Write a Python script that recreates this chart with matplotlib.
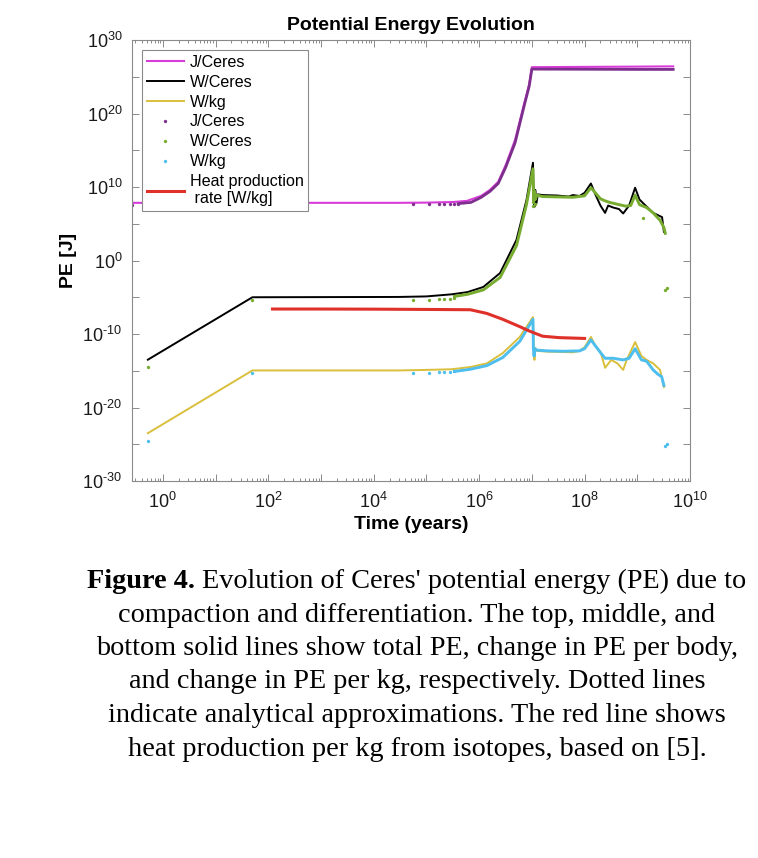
import numpy as np
import matplotlib.pyplot as plt
from matplotlib.ticker import FixedLocator, FuncFormatter, NullFormatter
from matplotlib.lines import Line2D

plt.rcParams['font.family'] = ['Liberation Sans', 'DejaVu Sans']
plt.rcParams['mathtext.fontset'] = 'custom'
plt.rcParams['mathtext.rm'] = 'Liberation Sans'
plt.rcParams['mathtext.it'] = 'Liberation Sans:italic'
plt.rcParams['mathtext.bf'] = 'Liberation Sans:bold'

# ---- data (time in years, PE values) ----
# J/Ceres (total PE), solid
t_j = [0.26, 50, 3e4, 1e5, 3.2e5, 5.9e5, 1.1e6, 1.6e6, 2.3e6, 3.2e6, 4.8e6, 7.4e6, 8.9e6, 1.0e7, 1e8, 1e9, 4.8e9]
pe_j = [7e7, 7e7, 7e7, 7.5e7, 9e7, 1.3e8, 6.3e8, 4e9, 5e10, 1e13, 2.5e16, 6e21, 1e24, 2e26, 2.2e26, 2.4e26, 2.6e26]

# W/Ceres, solid
t_w = [0.52, 50, 3e4, 1e5, 3e5, 6e5, 1.2e6, 2.5e6, 5.1e6, 7.9e6, 1.05e7, 1.08e7, 1.12e7, 1.16e7, 1.22e7, 1.3e7,
       1.6e7, 3e7, 5e7, 6e7, 8e7, 1e8, 1.32e8, 1.6e8, 2e8, 2.45e8, 2.8e8, 3.5e8, 4.5e8, 5.4e8, 7e8, 9.1e8,
       1.1e9, 1.3e9, 2e9, 2.95e9, 3.2e9]
pe_w = [3.2e-14, 1e-5, 1.1e-5, 1.3e-5, 2.5e-5, 5e-5, 2.5e-4, 2e-2, 6.3e2, 1.6e8, 2e13, 1e9, 2e7, 4e9, 6e7, 1e9,
        8e8, 7e8, 5e8, 8e8, 6e8, 1.6e9, 3e10, 1e9, 3e7, 3e6, 3e7, 1.6e7, 1e7, 2.5e6, 3e7, 8e9,
        2e8, 6e7, 3e6, 8e5, 8e3]

# W/kg, solid
t_kg = [0.52, 50, 3e4, 1e5, 3e5, 6.8e5, 1.4e6, 2.8e6, 5.9e6, 1.05e7, 1.08e7, 1.12e7, 1.16e7, 1.25e7, 2e7, 4e7,
        6e7, 8e7, 1e8, 1.32e8, 1.6e8, 2e8, 2.45e8, 3.2e8, 4.2e8, 5.4e8, 6.3e8, 9.1e8, 1.2e9, 1.5e9, 2e9,
        2.7e9, 3.2e9]
pe_kg = [3.2e-24, 1.1e-15, 1.1e-15, 1.3e-15, 1.6e-15, 3.2e-15, 1e-14, 2.5e-13, 4e-11, 2e-8, 1.6e-12, 3e-14,
         1.3e-12, 5e-13, 4e-13, 3.5e-13, 3.2e-13, 5e-13, 1.6e-12, 4e-11, 2.5e-12, 4e-13, 2.5e-15, 3e-14, 1e-14,
         1.3e-15, 3e-14, 8e-12, 1e-13, 3e-14, 1e-14, 1.3e-15, 6e-18]

# analytical approximations (dots): sparse points and dense stretches
t_aj = [0.26, 5.5e4, 1.1e5, 1.7e5, 2.2e5, 2.8e5, 3.4e5, 4e5]
pe_aj = [3.5e7, 4.5e7, 4.5e7, 4.6e7, 4.7e7, 4.8e7, 5e7, 5.2e7]
t_aj_dense = [4e5, 7e5, 1.1e6, 1.6e6, 2.3e6, 3.2e6, 4.8e6, 7.4e6, 8.9e6, 1.0e7, 1e8, 1e9, 4.8e9]
pe_aj_dense = [5.5e7, 8e7, 4e8, 2.5e9, 3e10, 5e12, 1e16, 3e21, 5e23, 1.1e26, 1.05e26, 1e26, 1e26]

t_aw = [0.52, 50, 5.5e4, 1.1e5, 1.7e5, 2.2e5, 2.8e5, 3.4e5, 1.06e7, 1.07e7, 1.1e7, 1.15e7, 1.3e9, 3.4e9, 3.6e9]
pe_aw = [3e-15, 4e-6, 4e-6, 4.5e-6, 5e-6, 5.5e-6, 6e-6, 7e-6, 1e8, 3e7, 2e9, 5e7, 6e5, 1e-4, 2e-4]
t_aw_dense = [3.4e5, 6e5, 1.2e6, 2.5e6, 5.1e6, 7.9e6, 1.05e7, 1.08e7, 1.12e7, 1.16e7, 1.25e7, 1.6e7, 3e7, 6e7,
              1e8, 1.32e8, 1.6e8, 2e8, 2.45e8, 3e8, 4.5e8, 6e8, 7.5e8, 9.1e8, 1.1e9, 1.5e9, 2e9, 2.7e9, 3.2e9, 3.4e9]
pe_aw_dense = [1.3e-5, 2.5e-5, 1e-4, 5e-3, 1e2, 4e7, 3e12, 1e8, 3e9, 2e8, 8e8, 5e8, 4.5e8, 4e8,
               6.3e8, 8e9, 1.6e9, 2.5e8, 1.3e8, 8e7, 4e7, 2.5e7, 3e7, 8e8, 4e7, 1.6e7, 3e6, 3e5, 3e4, 5e3]

t_akg = [0.52, 50, 5.5e4, 1.1e5, 1.7e5, 2.2e5, 2.8e5, 3.4e5, 3.4e9, 3.6e9]
pe_akg = [2.5e-25, 5e-16, 5e-16, 5.5e-16, 6e-16, 6.5e-16, 7e-16, 8e-16, 6.3e-26, 1e-25]
t_akg_dense = [3.4e5, 6.8e5, 1.4e6, 2.8e6, 5.9e6, 1.05e7, 1.07e7, 1.1e7, 1.15e7, 1.25e7, 2e7, 4e7, 8e7, 1e8,
               1.32e8, 1.6e8, 2e8, 2.45e8, 3.5e8, 5.4e8, 7e8, 9.1e8, 1.2e9, 1.5e9, 2e9, 2.5e9, 2.9e9, 3.2e9]
pe_akg_dense = [8e-16, 1.6e-15, 5e-15, 6.3e-14, 1e-11, 1e-8, 1e-12, 1e-13, 1e-12, 6.3e-13, 5e-13, 4.5e-13,
                5e-13, 1e-12, 1.6e-11, 2.5e-12, 3e-13, 5e-14, 5e-14, 3e-14, 5e-14, 1e-12, 3e-14, 2e-14,
                1.3e-15, 3e-16, 1.6e-16, 1e-17]

# heat production rate [W/kg]
t_heat = [120, 1e3, 1e4, 1e5, 6.8e5, 1.4e6, 2.8e6, 5.9e6, 9e6, 1.6e7, 3.3e7, 1e8]
heat = [2.5e-7, 2.5e-7, 2.4e-7, 2.2e-7, 2e-7, 6.3e-8, 1e-8, 1e-9, 2.5e-10, 5e-11, 3.2e-11, 2.5e-11]

c_mag = '#d83cd8'
c_blk = '#000000'
c_yel = '#d9bf3c'
c_pur = '#7e2f8e'
c_grn = '#77ac30'
c_blu = '#4dbeee'
c_red = '#e0302a'

W, H = 758, 858
fig = plt.figure(figsize=(W / 100, H / 100), dpi=100)
ax = fig.add_axes([132 / W, 1 - 481 / H, 558 / W, 441 / H])

ax.plot(t_j, pe_j, color=c_mag, lw=1.5)
ax.plot(t_w, pe_w, color=c_blk, lw=1.4)
ax.plot(t_kg, pe_kg, color=c_yel, lw=1.4)

ax.plot(t_aj_dense, pe_aj_dense, color=c_pur, lw=2.0)
ax.plot(t_aj, pe_aj, 'o', color=c_pur, ms=2.4, mew=0)
ax.plot(t_aw_dense, pe_aw_dense, color=c_grn, lw=2.1)
ax.plot(t_aw, pe_aw, 'o', color=c_grn, ms=2.4, mew=0)
ax.plot(t_akg_dense, pe_akg_dense, color=c_blu, lw=2.1)
ax.plot(t_akg, pe_akg, 'o', color=c_blu, ms=2.4, mew=0)

ax.plot(t_heat, heat, color=c_red, lw=2.2)

ax.set_xscale('log')
ax.set_yscale('log')
ax.set_xlim(0.26, 1e10)
ax.set_ylim(1e-30, 1e30)

gray = '#8a8a8a'
for s in ax.spines.values():
    s.set_color(gray)
    s.set_linewidth(0.8)


def exp_label(v):
    k = int(round(np.log10(v)))
    if k < 0:
        return r'$\mathdefault{10^{\text{-}%d}}$' % (-k)
    return r'$\mathdefault{10^{%d}}$' % k


ax.xaxis.set_major_locator(FixedLocator([10.0 ** k for k in range(0, 11)]))
ax.xaxis.set_major_formatter(FuncFormatter(
    lambda v, p: exp_label(v) if int(round(np.log10(v))) % 2 == 0 else ''))
ax.xaxis.set_minor_locator(FixedLocator([m * 10.0 ** k for k in range(-1, 10) for m in range(2, 10)]))
ax.xaxis.set_minor_formatter(NullFormatter())

ax.yaxis.set_major_locator(FixedLocator([10.0 ** k for k in range(-30, 31, 10)]))
ax.yaxis.set_major_formatter(FuncFormatter(lambda v, p: exp_label(v)))
ax.yaxis.set_minor_locator(FixedLocator([10.0 ** k for k in range(-25, 30, 10)]))
ax.yaxis.set_minor_formatter(NullFormatter())

ax.tick_params(which='both', direction='in', top=True, right=True, color=gray, labelcolor='#1a1a1a',
               labelsize=13, width=0.7)
ax.tick_params(which='major', length=5, pad=8)
ax.tick_params(which='minor', length=2.5)
ax.tick_params(axis='y', which='minor', length=5)
ax.tick_params(axis='y', which='major', pad=7)

ax.set_xlabel('Time (years)', fontsize=14, fontweight='bold', labelpad=3)
ax.set_ylabel('PE [J]', fontsize=14, fontweight='bold', labelpad=4)
fig.text(411 / W, 1 - 25 / H, 'Potential Energy Evolution', ha='center', va='center',
         fontsize=14, fontweight='bold')

handles = [
    Line2D([], [], color=c_mag, lw=1.5),
    Line2D([], [], color=c_blk, lw=1.4),
    Line2D([], [], color=c_yel, lw=1.4),
    Line2D([], [], ls='none', marker='o', color=c_pur, ms=2.4, mew=0),
    Line2D([], [], ls='none', marker='o', color=c_grn, ms=2.4, mew=0),
    Line2D([], [], ls='none', marker='o', color=c_blu, ms=2.4, mew=0),
    Line2D([], [], color=c_red, lw=2.2),
]
labels = ['J/Ceres', 'W/Ceres', 'W/kg', 'J/Ceres', 'W/Ceres', 'W/kg', 'Heat production\n rate [W/kg]']
leg = ax.legend(handles, labels, loc='upper left', bbox_to_anchor=(0.018, 0.977), borderaxespad=0,
                fontsize=11.6, frameon=True, fancybox=False, edgecolor=gray, framealpha=1,
                handlelength=2.3, handletextpad=0.35, labelspacing=0.3, borderpad=0.3)
leg.get_frame().set_linewidth(0.8)

# caption (baselines in pixels from the top)
serif = ['Liberation Serif', 'DejaVu Serif']
cap_fs = 20.3
cx = 417
line_y = [588, 621.5, 655, 688.5, 722, 755.5]
rest_lines = [
    'compaction and differentiation. The top, middle, and',
    'bottom solid lines show total PE, change in PE per body,',
    'and change in PE per kg, respectively. Dotted lines',
    'indicate analytical approximations. The red line shows',
    'heat production per kg from isotopes, based on [5].',
]
fig.canvas.draw()
r = fig.canvas.get_renderer()
tb = fig.text(0, 1 - line_y[0] / H, 'Figure 4.', family=serif, fontweight='bold', fontsize=cap_fs,
              va='baseline')
tr = fig.text(0, 1 - line_y[0] / H, ' Evolution of Ceres\' potential energy (PE) due to', family=serif,
              fontsize=cap_fs, va='baseline')
wb = tb.get_window_extent(r).width
wr = tr.get_window_extent(r).width
x0 = cx - (wb + wr) / 2
tb.set_x(x0 / W)
tr.set_x((x0 + wb) / W)
for yy, s in zip(line_y[1:], rest_lines):
    fig.text(cx / W, 1 - yy / H, s, family=serif, fontsize=cap_fs, ha='center', va='baseline')

fig.savefig('out.png', dpi=100)
